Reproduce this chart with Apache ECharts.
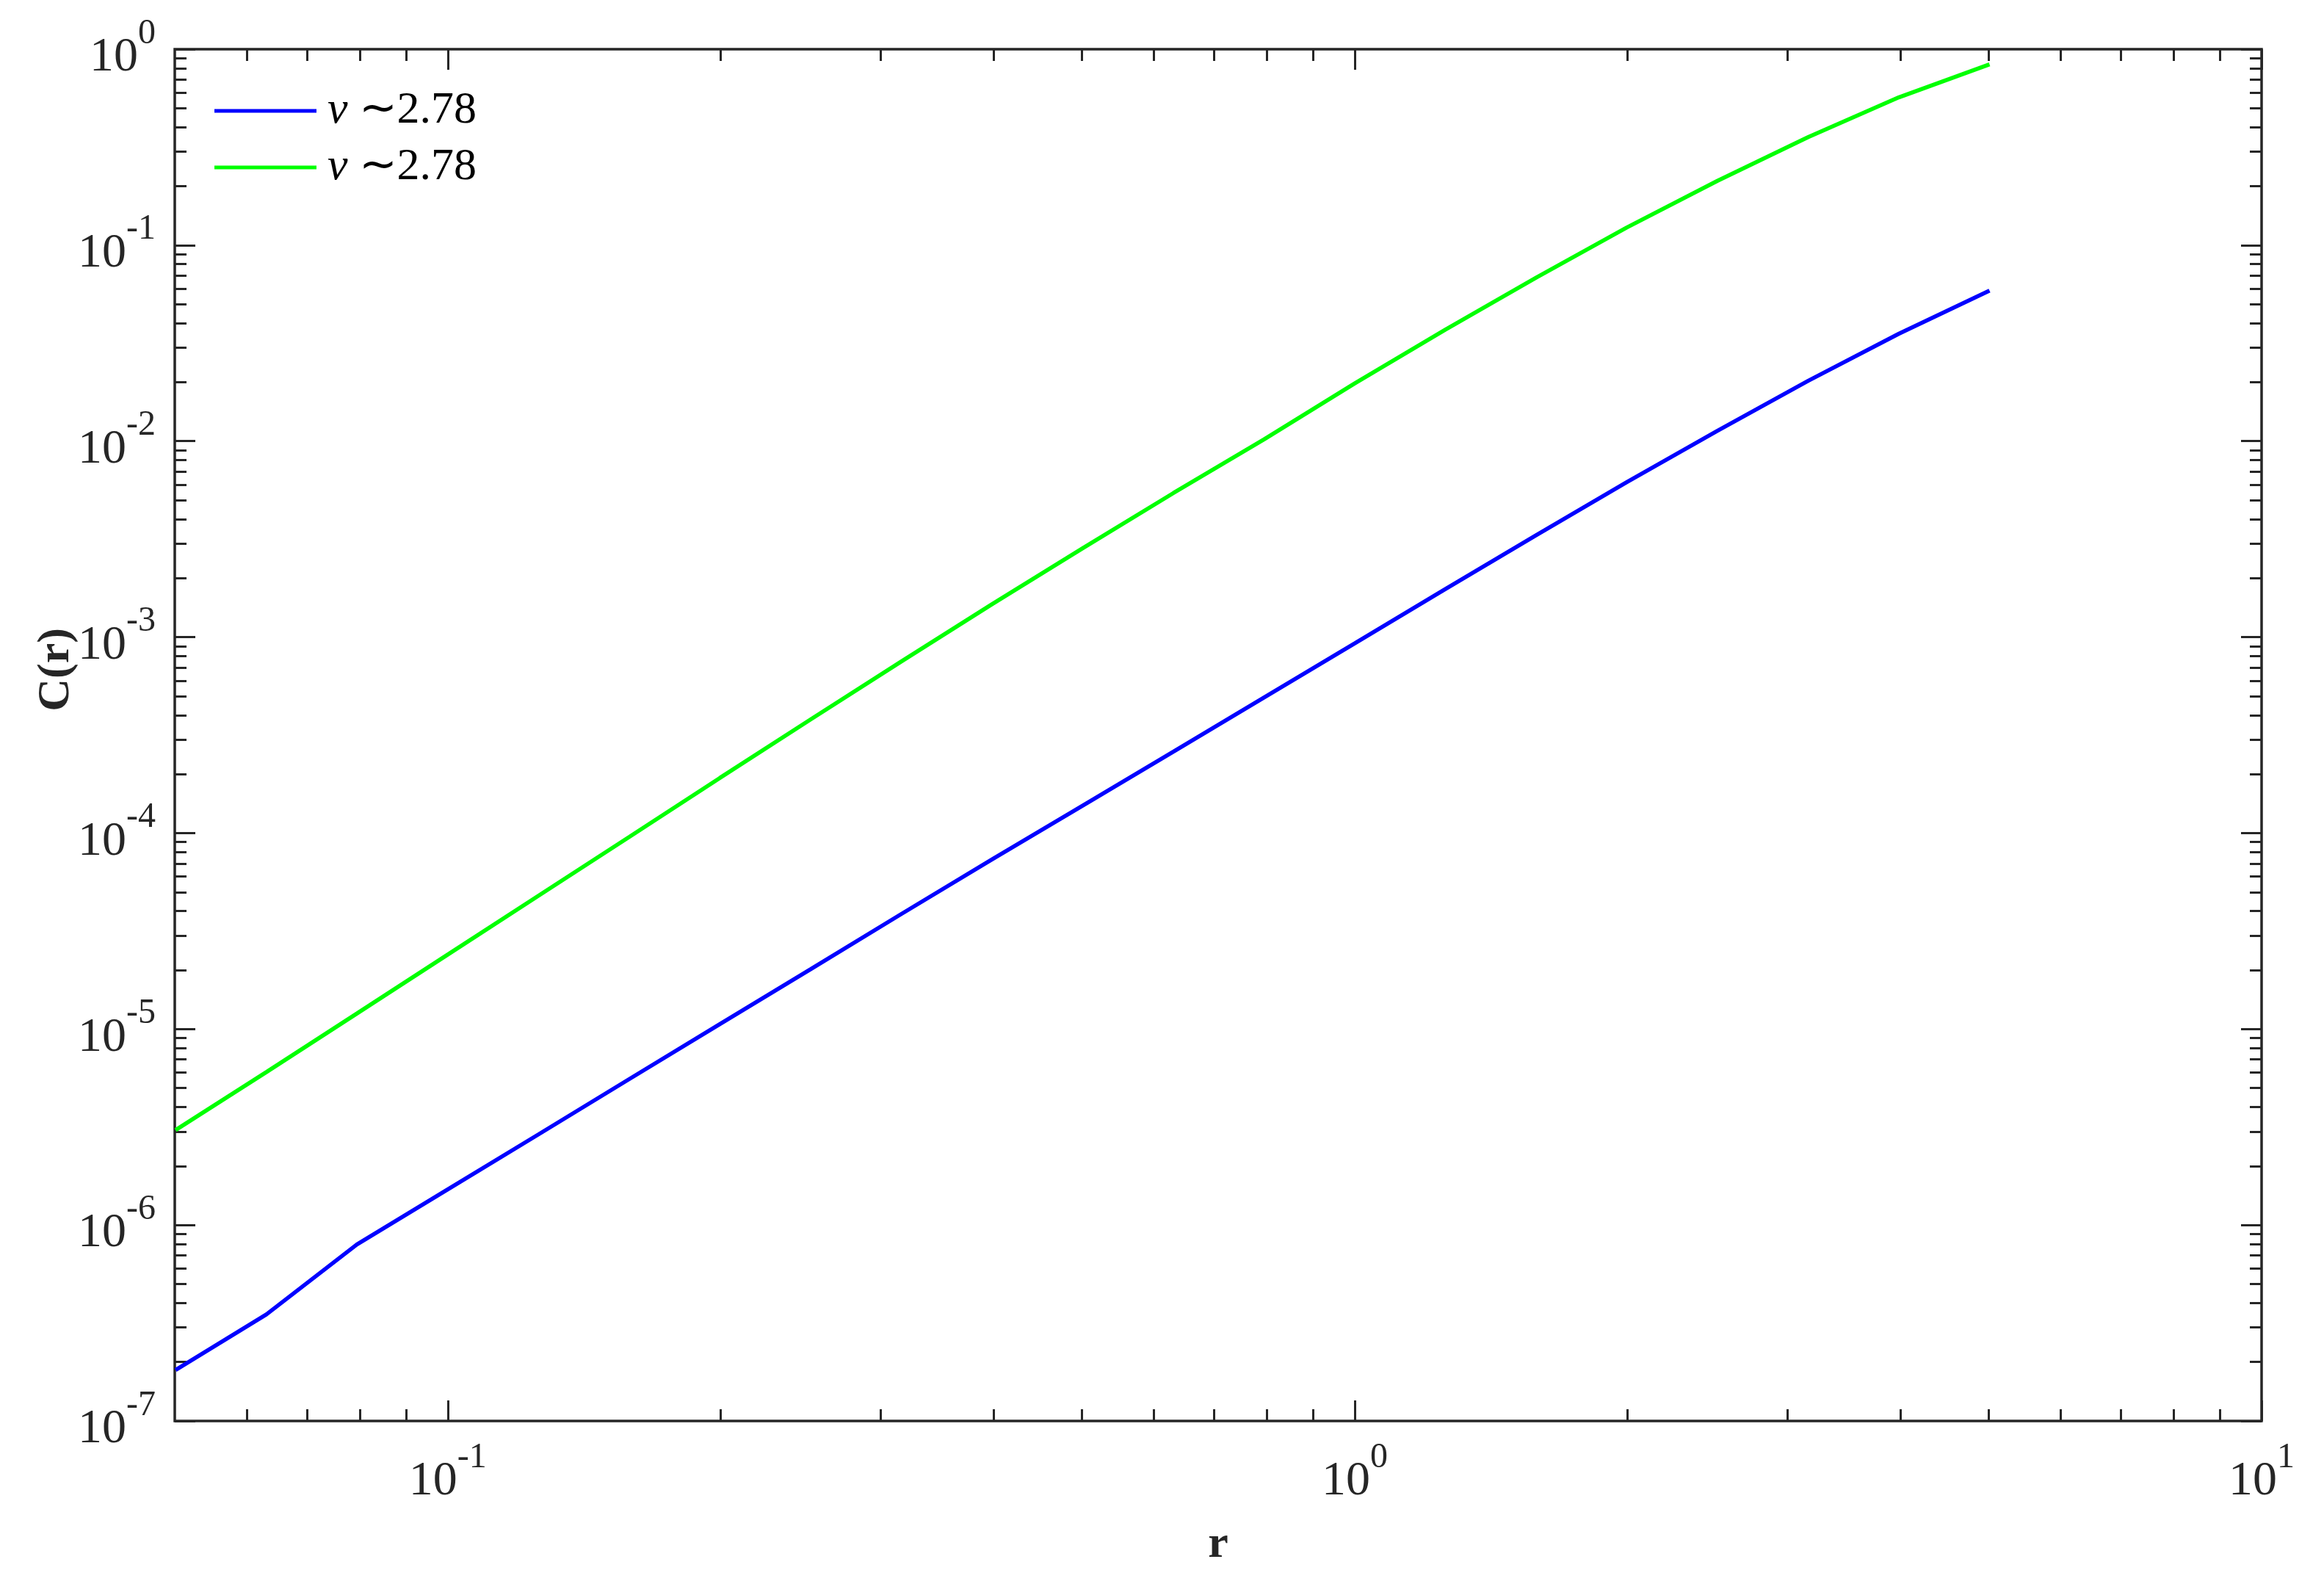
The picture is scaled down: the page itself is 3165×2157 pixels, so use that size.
<!DOCTYPE html>
<html>
<head>
<meta charset="utf-8">
<script src="https://cdn.jsdelivr.net/npm/echarts@6/dist/echarts.min.js"></script>
<style>
  html, body { margin: 0; padding: 0; background: #fff; }
  #chart { width: 3165px; height: 2157px; }
</style>
</head>
<body>
<div id="chart"></div>
<script>
// r 点取 10^(k/10), k = -13..7
const rValues = [0.0501, 0.0631, 0.0794, 0.1, 0.1259, 0.1585, 0.1995, 0.2512, 0.3162, 0.3981,
  0.5012, 0.631, 0.7943, 1, 1.259, 1.585, 1.995, 2.512, 3.162, 3.981, 5.012];
const blueC = [1.82e-7, 3.50e-7, 7.96e-7, 1.52e-6, 2.90e-6, 5.55e-6, 1.06e-5, 2.02e-5, 3.86e-5, 7.33e-5,
  1.38e-4, 2.60e-4, 4.92e-4, 9.29e-4, 1.76e-3, 3.31e-3, 6.17e-3, 1.13e-2, 2.03e-2, 3.53e-2, 5.86e-2];
const greenC = [3.05e-6, 6.03e-6, 1.20e-5, 2.40e-5, 4.79e-5, 9.55e-5, 1.91e-4, 3.80e-4, 7.50e-4, 1.47e-3,
  2.84e-3, 5.43e-3, 1.02e-2, 1.97e-2, 3.71e-2, 6.82e-2, 0.123, 0.213, 0.356, 0.568, 0.837];
const legendLabels = ['∼2.78', '∼2.78'];

// 刻度
const xMajor = [0.1, 1, 10];
const xMajorLabels = ['-1', '0', '1'];
const xMinor = [0.06, 0.07, 0.08, 0.09, 0.2, 0.3, 0.4, 0.5, 0.6, 0.7, 0.8, 0.9, 2, 3, 4, 5, 6, 7, 8, 9];
const yMajor = [1e-7, 1e-6, 1e-5, 1e-4, 1e-3, 1e-2, 1e-1, 1];
const yMajorLabels = ['-7', '-6', '-5', '-4', '-3', '-2', '-1', '0'];
const yMantissa = [2, 3, 4, 5, 6, 7, 8, 9];

const X_MIN = 0.05, X_MAX = 10, Y_MIN = 1e-7, Y_MAX = 1;
const lg = Math.log10;
const axisColor = '#262626';
const font = "'Liberation Serif', 'Times New Roman', serif";

const yMinor = [];
yMajor.slice(0, -1).forEach(d => yMantissa.forEach(m => yMinor.push(m * d)));

const labelRich = {
  b: { fontFamily: font, fontSize: 66, color: axisColor, lineHeight: 90, verticalAlign: 'bottom' },
  s: { fontFamily: font, fontSize: 48, color: axisColor, verticalAlign: 'top' }
};

function findLabel(v, ticks, labels) {
  const i = ticks.findIndex(t => Math.abs(lg(t) - v) < 1e-6);
  return '{b|10}{s|' + labels[i] + '}';
}

// 叠加的 value 轴, 只用来画刻度
function tickAxis(dim, position, ticks, len, labels) {
  const isX = dim === 'x';
  return {
    type: 'value',
    position: position,
    min: lg(isX ? X_MIN : Y_MIN),
    max: lg(isX ? X_MAX : Y_MAX),
    axisLine: { show: false, onZero: false },
    splitLine: { show: false },
    axisTick: {
      show: true, inside: true, length: len,
      customValues: ticks.map(lg),
      lineStyle: { color: axisColor, width: 3 }
    },
    axisLabel: labels ? {
      show: true,
      customValues: ticks.map(lg),
      margin: 26,
      formatter: v => findLabel(v, ticks, labels),
      rich: labelRich
    } : { show: false }
  };
}

const chart = echarts.init(document.getElementById('chart'));
chart.setOption({
  animation: false,
  backgroundColor: '#fff',
  grid: {
    left: 238, right: 85, top: 67, bottom: 222,
    show: true, borderColor: axisColor, borderWidth: 3.5, backgroundColor: 'transparent'
  },
  legend: {
    orient: 'vertical',
    left: 292, top: 120,
    padding: 0,
    icon: 'rect',
    itemWidth: 139, itemHeight: 5,
    itemGap: 15,
    data: ['C1', 'C2'],
    formatter: name => '{nu|ν} {t|' + legendLabels[name === 'C1' ? 0 : 1] + '}',
    textStyle: {
      fontFamily: font, fontSize: 60, color: '#000', lineHeight: 60,
      rich: {
        nu: { fontFamily: font, fontSize: 62, fontStyle: 'italic', color: '#000', padding: [0, 0, 0, 10] },
        t: { fontFamily: font, fontSize: 62, color: '#000' }
      }
    }
  },
  xAxis: [
    {
      type: 'log', logBase: 10, min: X_MIN, max: X_MAX,
      axisLine: { show: false, onZero: false }, axisTick: { show: false },
      axisLabel: { show: false }, splitLine: { show: false }
    },
    Object.assign(tickAxis('x', 'bottom', xMajor, 28, xMajorLabels), {
      name: 'r',
      nameLocation: 'middle',
      nameGap: 138,
      nameTextStyle: { fontFamily: font, fontSize: 62, fontWeight: 'bold', color: axisColor }
    }),
    tickAxis('x', 'bottom', xMinor, 16),
    tickAxis('x', 'top', xMajor, 28),
    tickAxis('x', 'top', xMinor, 16)
  ],
  yAxis: [
    {
      type: 'log', logBase: 10, min: Y_MIN, max: Y_MAX,
      axisLine: { show: false, onZero: false }, axisTick: { show: false },
      axisLabel: { show: false }, splitLine: { show: false }
    },
    tickAxis('y', 'left', yMajor, 28, yMajorLabels),
    tickAxis('y', 'left', yMinor, 16),
    tickAxis('y', 'right', yMajor, 28),
    tickAxis('y', 'right', yMinor, 16)
  ],
  graphic: [{
    type: 'text',
    x: 77, y: 912,
    rotation: Math.PI / 2,
    style: {
      text: 'C(r)',
      font: "bold 62px 'Liberation Serif', serif",
      fill: axisColor,
      align: 'center',
      verticalAlign: 'middle'
    }
  }],
  series: [
    {
      name: 'C1', type: 'line', xAxisIndex: 0, yAxisIndex: 0,
      data: rValues.map((r, i) => [r, blueC[i]]),
      showSymbol: false, symbol: 'none',
      lineStyle: { color: '#0000ff', width: 5.5 },
      itemStyle: { color: '#0000ff' }
    },
    {
      name: 'C2', type: 'line', xAxisIndex: 0, yAxisIndex: 0,
      data: rValues.map((r, i) => [r, greenC[i]]),
      showSymbol: false, symbol: 'none',
      lineStyle: { color: '#00ff00', width: 5.5 },
      itemStyle: { color: '#00ff00' }
    }
  ]
});
</script>
</body>
</html>
